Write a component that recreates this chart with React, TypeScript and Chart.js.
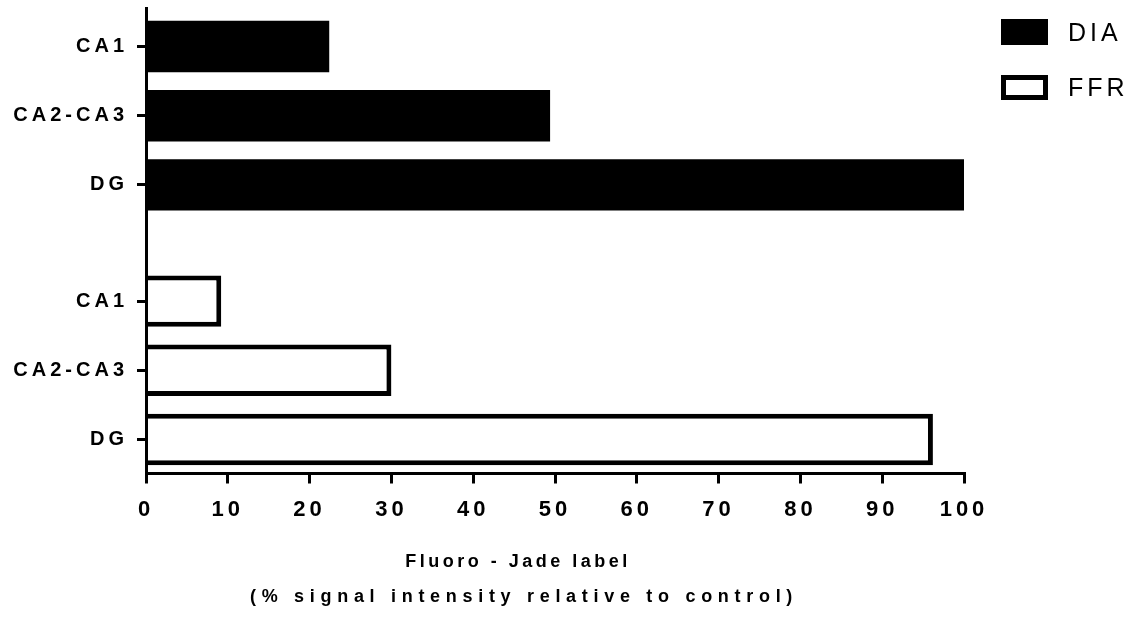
import React, { useEffect, useRef } from 'react';
import { Chart, registerables } from 'chart.js';

Chart.register(...registerables);

// ---- data ----
const regionLabels = ['CA1', 'CA2-CA3', 'DG', 'CA1', 'CA2-CA3', 'DG'];
const rowPositions = [1, 2, 3, 4.68, 5.68, 6.68];
const seriesNames = ['DIA', 'FFR'];
const diaRows = [1, 2, 3];
const diaValues = [22.4, 49.4, 100];
const ffrRows = [4.68, 5.68, 6.68];
const ffrValues = [9.2, 30, 96.2];
const titleLines = ['Fluoro - Jade label', '(% signal intensity relative to control)'];

const FONT = '"Liberation Sans", Arial, sans-serif';

const spacingPlugin = {
  id: 'letterSpacing',
  beforeUpdate(chart: any) {
    chart.ctx.letterSpacing = '4px';
  },
  beforeDraw(chart: any) {
    chart.ctx.letterSpacing = '4px';
  },
};

const legendPlugin = {
  id: 'sideLegend',
  afterDraw(chart: any) {
    const ctx = chart.ctx as CanvasRenderingContext2D;
    ctx.save();
    chart.data.datasets.forEach((ds: any, i: number) => {
      const top = 21.5 + i * 56;
      ctx.beginPath();
      ctx.rect(1003.5, top, 42, 21 - i);
      ctx.fillStyle = ds.backgroundColor;
      ctx.fill();
      ctx.lineWidth = 5;
      ctx.strokeStyle = '#000';
      ctx.stroke();
      (ctx as any).letterSpacing = '4px';
      ctx.font = `25px ${FONT}`;
      ctx.fillStyle = '#000';
      ctx.textAlign = 'left';
      ctx.textBaseline = 'middle';
      ctx.fillText(ds.label, 1068, 34 + i * 55);
    });
    ctx.restore();
  },
};

const titlePlugin = {
  id: 'axisTitle',
  afterDraw(chart: any) {
    const ctx = chart.ctx as CanvasRenderingContext2D;
    ctx.save();
    ctx.font = `bold 18px ${FONT}`;
    ctx.fillStyle = '#000';
    ctx.textAlign = 'center';
    ctx.textBaseline = 'middle';
    (ctx as any).letterSpacing = '3.5px';
    ctx.fillText(titleLines[0], 518, 562);
    (ctx as any).letterSpacing = '5.7px';
    ctx.fillText(titleLines[1], 524, 597);
    ctx.restore();
  },
};

export default function App() {
  const ref = useRef<HTMLCanvasElement>(null);
  useEffect(() => {
    const chart = new Chart(ref.current as HTMLCanvasElement, {
      type: 'bar',
      data: {
        datasets: [
          {
            label: seriesNames[0],
            data: diaRows.map((r, i) => ({ x: diaValues[i], y: r })),
            backgroundColor: '#000',
            borderColor: '#000',
            borderWidth: 0,
          },
          {
            label: seriesNames[1],
            data: ffrRows.map((r, i) => ({ x: ffrValues[i], y: r })),
            backgroundColor: '#fff',
            borderColor: '#000',
            borderWidth: 5,
            borderSkipped: 'start',
          },
        ],
      } as any,
      options: {
        responsive: false,
        animation: false,
        indexAxis: 'y',
        events: [],
        grouped: false,
        categoryPercentage: 1,
        barPercentage: 0.744,
        layout: { padding: { top: 8, left: 0, right: 166, bottom: 0 } },
        plugins: {
          legend: { display: false },
          tooltip: { enabled: false },
        },
        scales: {
          y: {
            type: 'linear',
            reverse: true,
            offset: false,
            min: 0.444,
            max: 7.171,
            afterBuildTicks(scale: any) {
              scale.ticks = rowPositions.map((v) => ({ value: v }));
            },
            afterFit(scale: any) {
              scale.width = 146;
              scale.paddingTop = 0;
              scale.paddingBottom = 0;
            },
            ticks: {
              autoSkip: false,
              padding: 9,
              color: '#000',
              font: { family: FONT, size: 20, weight: 'bold' },
              callback: (v: any) => regionLabels[rowPositions.indexOf(Number(v))] ?? '',
            },
            grid: {
              display: true,
              offset: false,
              drawOnChartArea: false,
              drawTicks: true,
              tickLength: 9,
              tickWidth: 3,
              tickColor: '#000',
              color: '#000',
              lineWidth: 3,
            },
            border: { display: true, color: '#000', width: 3, z: 1 },
          },
          x: {
            type: 'linear',
            min: 0,
            max: 100,
            offset: false,
            afterFit(scale: any) {
              scale.height = 164.5;
              scale.paddingLeft = 0;
              scale.paddingRight = 0;
            },
            ticks: {
              stepSize: 10,
              padding: 13,
              color: '#000',
              maxRotation: 0,
              autoSkip: false,
              font: { family: FONT, size: 22, weight: 'bold' },
            },
            grid: {
              display: true,
              offset: false,
              drawOnChartArea: false,
              drawTicks: true,
              tickLength: 10,
              tickWidth: 3,
              tickColor: '#000',
              color: '#000',
              lineWidth: 3,
            },
            border: { display: true, color: '#000', width: 3 },
          },
        },
      } as any,
      plugins: [spacingPlugin, legendPlugin, titlePlugin],
    });
    return () => chart.destroy();
  }, []);
  return (
    <div style={{ position: 'absolute', left: 0, top: 0, width: 1130, height: 638, background: '#fff' }}>
      <canvas ref={ref} width={1130} height={638} style={{ display: 'block' }} />
    </div>
  );
}
